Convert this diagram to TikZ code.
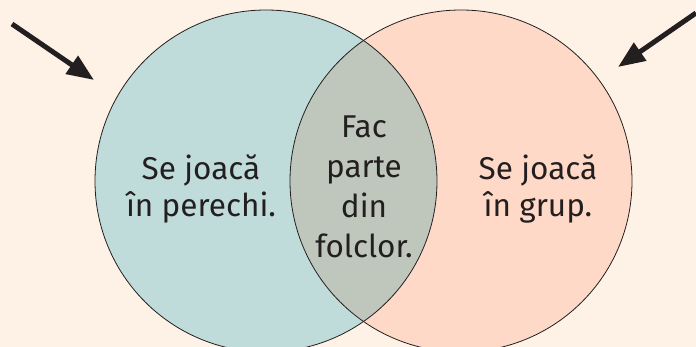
\documentclass[tikz,border=0pt]{standalone}
\usepackage{fontspec}
\setmainfont{Fira Sans}
\usetikzlibrary{arrows.meta}
\definecolor{bg}{HTML}{FEF2E7}
\definecolor{leftc}{HTML}{BFDBDA}
\definecolor{rightc}{HTML}{FFD9C7}
\definecolor{lensc}{HTML}{BFC7BC}
\definecolor{ink}{HTML}{231F20}
\tikzset{
  setc/.style={circle, minimum size=342pt, inner sep=0pt, draw=ink, line width=0.8pt},
  lbl/.style={text=ink, align=center, font=\fontsize{31.5}{37}\selectfont},
  lenslbl/.style={text=ink, align=center, font=\fontsize{31.5}{40}\selectfont},
  bigarrow/.style={draw=ink, line width=5pt, -{Triangle[length=27pt,width=21pt]}}
}
\begin{document}
\begin{tikzpicture}[x=1pt,y=1pt]
\fill[bg] (0,0) rectangle (696,-347);
\useasboundingbox (0,0) rectangle (696,-347);
\coordinate (cl) at (266,-181);
\coordinate (cr) at (461,-181);
\fill[leftc] (cl) circle (171);
\fill[rightc] (cr) circle (171);
\begin{scope}
  \clip (cl) circle (171);
  \fill[lensc] (cr) circle (171);
\end{scope}
\node[setc] (L) at (cl) {};
\node[setc] (R) at (cr) {};
\node[lbl] (tl) at (201,-189) {Se joacă\\în perechi.};
\node[lbl] (tr) at (538,-189) {Se joacă\\în grup.};
\node[lenslbl] (tm) at (364,-187) {Fac\\parte\\din\\folclor.};
\coordinate (a1s) at (12,-24);
\coordinate (a1e) at (94,-80);
\coordinate (a2s) at (696,-13);
\coordinate (a2e) at (618,-67);
\draw[bigarrow] (a1s) -- (a1e);
\draw[bigarrow] (a2s) -- (a2e);
\end{tikzpicture}
\end{document}
